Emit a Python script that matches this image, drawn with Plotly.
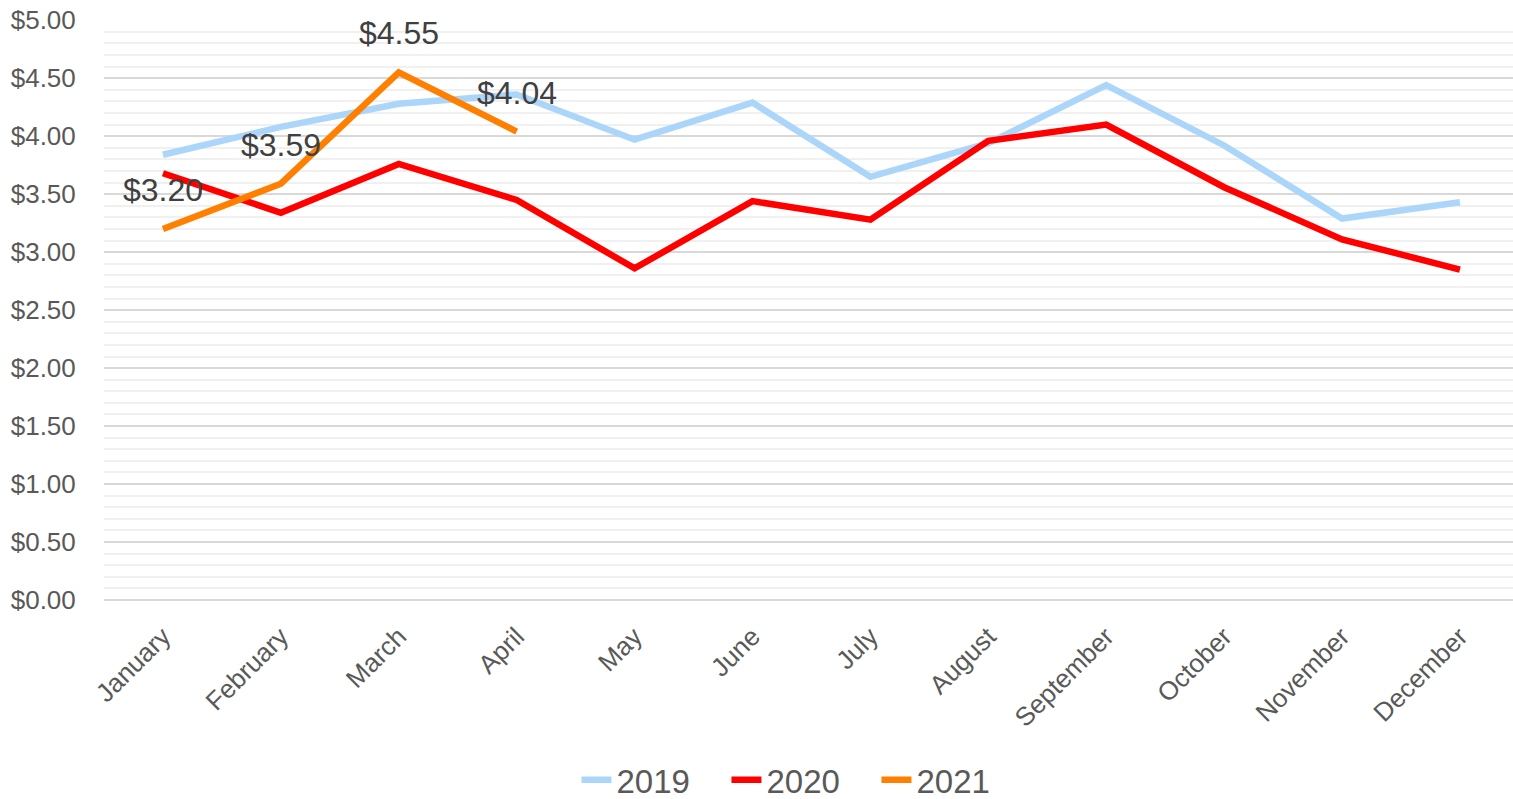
import plotly.graph_objects as go

months = ["January", "February", "March", "April", "May", "June", "July",
          "August", "September", "October", "November", "December"]
sales_2019 = [3.84, 4.08, 4.28, 4.36, 3.97, 4.29, 3.65, 3.94, 4.44, 3.92, 3.29, 3.43]
sales_2020 = [3.68, 3.34, 3.76, 3.45, 2.86, 3.44, 3.28, 3.96, 4.10, 3.56, 3.11, 2.85]
sales_2021 = [3.20, 3.59, 4.55, 4.04]
y_ticks = [0, 0.5, 1, 1.5, 2, 2.5, 3, 3.5, 4, 4.5, 5]

FONT = "Liberation Sans Narrow, Arial Narrow, Liberation Sans, Arial, sans-serif"
series = [("2019", sales_2019, "#acd6f9"), ("2020", sales_2020, "#ff0000"), ("2021", sales_2021, "#ff8000")]

fig = go.Figure()
for name, vals, col in series:
    fig.add_trace(go.Scatter(x=months[:len(vals)], y=vals, name=name, mode="lines",
                             line=dict(color=col, width=6.5)))

for m, v in zip(months, sales_2021):
    fig.add_annotation(x=m, y=v, text=f"${v:.2f}", showarrow=False, yshift=39,
                       font=dict(family=FONT, size=32, color="#404040"))

fig.update_layout(
    width=1513, height=799,
    margin=dict(l=104, r=0, t=20, b=199, autoexpand=False),
    paper_bgcolor="white", plot_bgcolor="white",
    font=dict(family=FONT, color="#595959"),
    showlegend=True,
    legend=dict(orientation="h", x=0.495, xanchor="center", y=-0.31, yanchor="middle",
                font=dict(size=33, color="#595959"), itemwidth=30,
                entrywidth=105, entrywidthmode="pixels"),
)
fig.update_xaxes(type="category", range=[-0.5, 11.45], showgrid=False, showline=False, automargin=False,
                 tickangle=-45, tickfont=dict(size=26, color="#595959"),
                 ticks="outside", ticklen=10, tickcolor="rgba(0,0,0,0)")
fig.update_yaxes(range=[0, 5.002], tickvals=y_ticks, tickformat="$.2f", automargin=False,
                 gridcolor="#d9d9d9", gridwidth=2, zeroline=True, zerolinecolor="#d9d9d9", zerolinewidth=2,
                 minor=dict(dtick=0.1, showgrid=True, gridcolor="#f0f0f0", gridwidth=2),
                 ticks="outside", ticklen=22, tickcolor="rgba(0,0,0,0)",
                 tickfont=dict(size=26, color="#595959"))

fig.write_html("out.html", config={"displayModeBar": False},
               post_script="document.body.style.margin='0px';")
